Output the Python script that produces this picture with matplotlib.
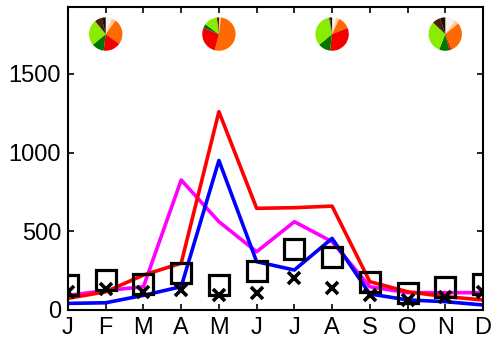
import matplotlib
matplotlib.use("Agg")
import matplotlib.pyplot as plt

months = ["J", "F", "M", "A", "M", "J", "J", "A", "S", "O", "N", "D"]
red_vals = [74, 116, 222, 297, 1260, 646, 650, 660, 180, 116, 85, 64]
blue_vals = [42, 46, 93, 148, 950, 307, 254, 455, 102, 64, 53, 32]
magenta_vals = [93, 123, 148, 826, 561, 370, 561, 434, 148, 110, 110, 110]
square_vals = [159, 191, 165, 237, 159, 248, 388, 339, 176, 106, 148, 165]
cross_vals = [116, 133, 116, 127, 93, 106, 201, 138, 93, 64, 85, 116]

pie_months = [2, 5, 8, 11]
pie_colors = ["#f6f1ea", "#ffc98f", "#ff6a00", "#f20000", "#007800",
              "#8aec00", "#4a2010", "#1a0a00"]
pie_feb = [0.06, 0.04, 0.25, 0.17, 0.12, 0.25, 0.07, 0.04]
pie_may = [0.00, 0.02, 0.52, 0.27, 0.04, 0.13, 0.01, 0.01]
pie_aug = [0.04, 0.03, 0.12, 0.33, 0.12, 0.33, 0.01, 0.02]
pie_nov = [0.10, 0.04, 0.30, 0.02, 0.10, 0.31, 0.08, 0.05]
pie_data = [pie_feb, pie_may, pie_aug, pie_nov]

plt.rcParams['font.family'] = ['Liberation Sans', 'DejaVu Sans']

fig = plt.figure(figsize=(4.91, 3.43), dpi=100)
ax = fig.add_axes([68/491, 33/343, 415/491, 303/343])

x = list(range(1, 13))
ax.plot(x, magenta_vals, color="#ff00ff", lw=2.6)
ax.plot(x, blue_vals, color="#0000ff", lw=2.6)
ax.plot(x, red_vals, color="#ff0000", lw=2.6)
ax.plot(x, square_vals, linestyle="none", marker="s", ms=14, mfc="none",
        mec="black", mew=2.3)
ax.plot(x, cross_vals, linestyle="none", marker="x", ms=9, mec="black", mew=2.6)

ax.set_xlim(1, 12)
ax.set_ylim(0, 1925)
ax.set_xticks(x)
ax.set_xticklabels(months)
ax.set_yticks([0, 500, 1000, 1500])
ax.tick_params(direction="in", length=4, width=1.2, labelsize=17,
               top=True, right=True, pad=5)
for s in ax.spines.values():
    s.set_linewidth(1.5)

pie_y = 1753
pie_w = 0.886
pie_h = 212
for m, fr in zip(pie_months, pie_data):
    iax = ax.inset_axes([m - pie_w/2, pie_y - pie_h/2, pie_w, pie_h],
                        transform=ax.transData)
    vals = [f if f > 0 else 1e-6 for f in fr]
    iax.pie(vals, colors=pie_colors, startangle=90, counterclock=False,
            wedgeprops=dict(linewidth=0))
    iax.set_xlim(-1, 1)
    iax.set_ylim(-1, 1)
    iax.set_aspect("equal")
    iax.axis("off")

fig.savefig("out.png", dpi=100)
